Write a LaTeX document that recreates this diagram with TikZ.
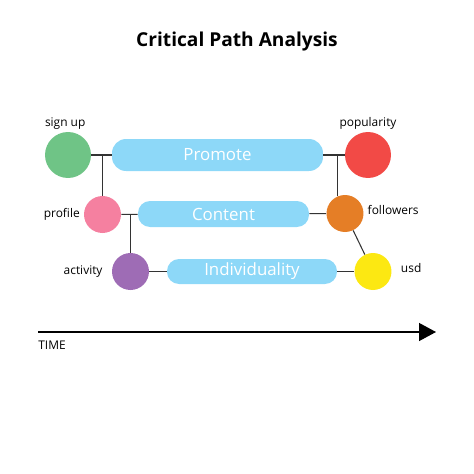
\documentclass[tikz,border=0pt]{standalone}
\usepackage{fontspec}
\setmainfont{Open Sans}
\usepackage{xcolor}
\usetikzlibrary{positioning, arrows.meta}

\definecolor{barblue}{RGB}{141,216,248}
\definecolor{cgreen}{RGB}{111,196,134}
\definecolor{cpink}{RGB}{245,128,160}
\definecolor{cpurple}{RGB}{158,108,181}
\definecolor{cred}{RGB}{242,74,70}
\definecolor{corange}{RGB}{229,126,38}
\definecolor{cyellow}{RGB}{252,232,18}

\begin{document}
\begin{tikzpicture}[
    x=0.02cm, y=-0.02cm,
    bigdot/.style={circle, minimum size=0.92cm, inner sep=0pt},
    dot/.style={circle, minimum size=0.74cm, inner sep=0pt},
    bar/.style={fill=barblue, rounded corners=0.28cm, inner sep=0pt,
        text=white, font=\fontsize{9.6}{11}\selectfont},
    lbl/.style={font=\fontsize{6.8}{8}\selectfont, inner sep=1pt},
    link/.style={draw=black!80, line width=0.6pt}
]
    \useasboundingbox (0,0) rectangle (474,474);

    % title
    \node[font=\bfseries\fontsize{10.9}{13}\selectfont] (title) at (237,42) {Critical Path Analysis};

    % events
    \node[bigdot, fill=cgreen] (signup) at (68,155) {};
    \node[dot, fill=cpink] (profile) at (102.5,214.5) {};
    \node[dot, fill=cpurple] (activity) at (130.5,271.5) {};
    \node[bigdot, fill=cred] (popularity) at (368,155) {};
    \node[dot, fill=corange] (followers) at (345,213.5) {};
    \node[dot, fill=cyellow] (usd) at (373,271.5) {};

    \node[lbl, above=0pt of signup, xshift=-4\pgflinewidth] {sign up};
    \node[lbl, above=0pt of popularity] {popularity};
    \node[lbl, left=1pt of profile] {profile};
    \node[lbl, left=4pt of activity] {activity};
    \node[lbl, right=1pt of followers, yshift=2pt] {followers};
    \node[lbl, right=4pt of usd, yshift=2pt] {usd};

    % activities
    \node[bar, minimum width=4.22cm, minimum height=0.64cm] (promote) at (217.5,155) {Promote};
    \node[bar, minimum width=3.42cm, minimum height=0.52cm, rounded corners=0.24cm] (content) at (223.5,214) {Content};
    \node[bar, minimum width=3.40cm, minimum height=0.50cm, rounded corners=0.24cm] (indiv) at (252,271.5) {Individuality};

    % links
    \draw[link] (signup) -- (promote);
    \draw[link] (profile.north) -- (profile.north |- signup.east);
    \draw[link] (profile) -- (content);
    \draw[link] (activity.north) -- (activity.north |- profile.east);
    \draw[link] (activity) -- (indiv);
    \draw[link] (promote) -- (popularity);
    \draw[link] (followers.115) -- (followers.115 |- popularity.west);
    \draw[link] (content) -- (followers);
    \draw[link] (followers) -- (usd);
    \draw[link] (indiv) -- (usd);

    % time axis
    \coordinate (t0) at (38,332);
    \coordinate (t1) at (436,332);
    \draw[line width=0.8pt, -{Triangle[length=0.34cm, width=0.36cm]}] (t0) -- (t1);
    \node[lbl, anchor=north west, inner sep=0pt] (time) at (38,341) {TIME};
\end{tikzpicture}
\end{document}
